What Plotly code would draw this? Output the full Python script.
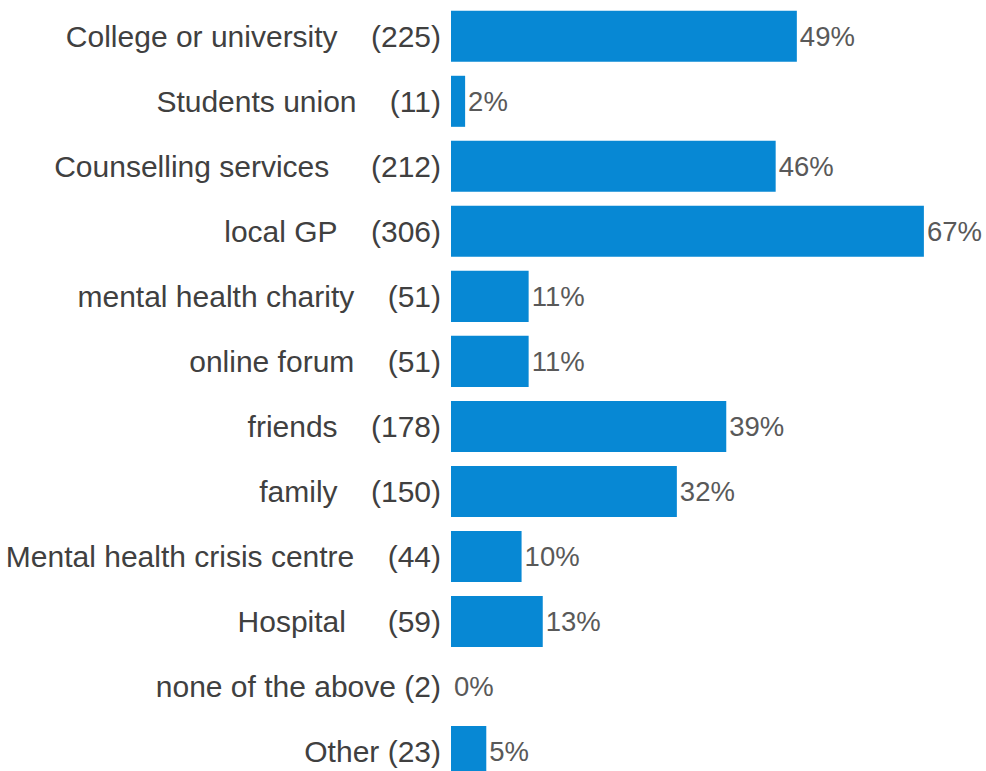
import plotly.graph_objects as go

# Where respondents sought support: share of respondents and raw counts
categories = [
    "College or university",
    "Students union",
    "Counselling services",
    "local GP",
    "mental health charity",
    "online forum",
    "friends",
    "family",
    "Mental health crisis centre",
    "Hospital",
    "none of the above",
    "Other",
]
counts = [225, 11, 212, 306, 51, 51, 178, 150, 44, 59, 2, 23]
percents = [49, 2, 46, 67, 11, 11, 39, 32, 10, 13, 0, 5]

# number of non-breaking spaces between a name and its count
label_gap = [4, 4, 5, 4, 4, 4, 4, 4, 4, 5, 1, 1]

NBSP = "\u00a0"
tick_text = [f"{c}{NBSP * g}({n})" for c, n, g in zip(categories, counts, label_gap)]

FONT = "Arial, 'Liberation Sans', sans-serif"

fig = go.Figure(
    go.Bar(
        x=percents,
        y=categories,
        orientation="h",
        marker=dict(color="#0788D4", line=dict(width=0)),
        text=[f"{p}%" for p in percents],
        textposition="outside",
        textfont=dict(family=FONT, size=27.5, color="#595959"),
        cliponaxis=False,
        hoverinfo="skip",
    )
)

fig.update_layout(
    width=986,
    height=771,
    margin=dict(l=451, r=0, t=0, b=0),
    paper_bgcolor="white",
    plot_bgcolor="white",
    bargap=0.215,
    showlegend=False,
    font=dict(family=FONT),
)

fig.update_xaxes(
    range=[0, 75.8],
    visible=False,
    showgrid=False,
    zeroline=False,
)

fig.update_yaxes(
    type="category",
    range=[11.30, -0.558],
    tickvals=categories,
    ticktext=tick_text,
    ticks="",
    showgrid=False,
    zeroline=False,
    showline=False,
    tickfont=dict(family=FONT, size=30, color="#404040"),
    ticklabelstandoff=9,
)

fig.write_html("out.html")
